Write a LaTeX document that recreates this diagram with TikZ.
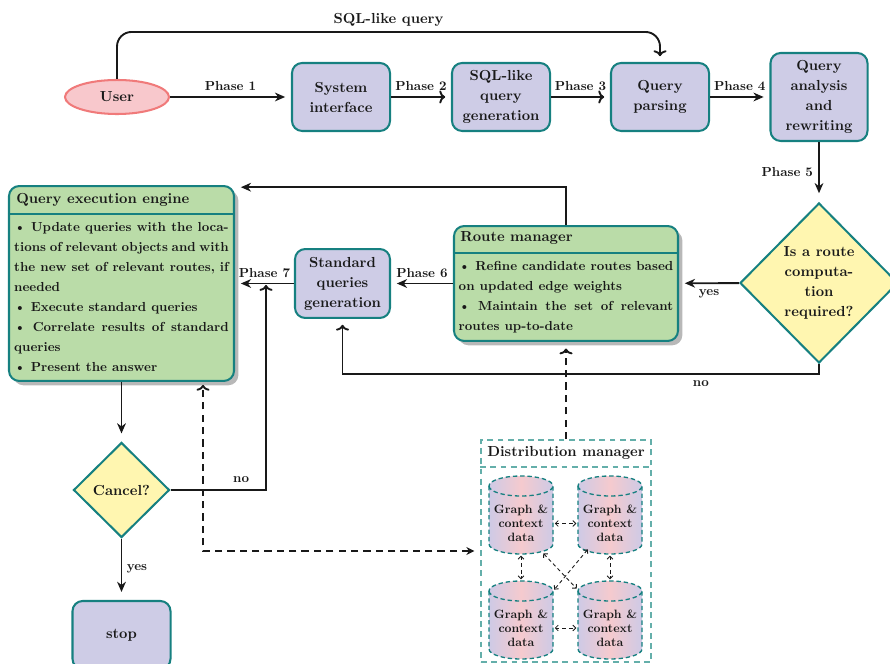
\documentclass[tikz,border=0pt]{standalone}
\usetikzlibrary{shapes.geometric,arrows.meta,shadows,calc}
\definecolor{lav}{RGB}{206,204,230}
\definecolor{tealb}{RGB}{22,128,128}
\definecolor{grn}{RGB}{186,220,168}
\definecolor{yel}{RGB}{255,246,176}
\definecolor{upink}{RGB}{248,200,204}
\definecolor{ured}{RGB}{240,122,122}
\definecolor{cpink}{RGB}{245,202,206}
\definecolor{clav}{RGB}{206,202,230}
\definecolor{dmteal}{RGB}{100,175,170}
\definecolor{ink}{RGB}{25,25,25}
\font\bodyfnt="[lmroman10-bold.otf]" at 9pt
\font\cylfnt="[lmroman10-bold.otf]" at 8.3pt
\newcommand\nf{\fontsize{10}{13.75}\selectfont\bfseries}
\newcommand\smf{\bodyfnt\baselineskip=13.75pt\relax}
\newcommand\labf{\bodyfnt}
\newcommand\cylf{\cylfnt\baselineskip=9.6pt\relax}
\newcommand\cyl[2]{%
  \shadedraw[left color=clav, right color=clav, middle color=cpink, draw=tealb, line width=0.9pt, dash pattern=on 3pt off 2pt]
    (#1-32,#2+29) -- (#1-32,#2-29) arc[start angle=180,end angle=360,x radius=32,y radius=10]
    -- (#1+32,#2+29) arc[start angle=0,end angle=180,x radius=32,y radius=10] -- cycle;
  \draw[tealb, line width=0.9pt, dash pattern=on 3pt off 2pt]
    (#1-32,#2+29) arc[start angle=180,end angle=360,x radius=32,y radius=10];
}
\begin{document}
\begin{tikzpicture}[x=0.6875pt,y=0.6875pt,
 proc/.style={rectangle, draw=tealb, line width=1.4pt, fill=lav, rounded corners=7pt, align=center, font=\nf, text=ink, inner sep=2pt, minimum width=67.4pt, minimum height=46.75pt},
 dec/.style={diamond, aspect=1, draw=tealb, line width=1.4pt, fill=yel, align=center, font=\nf, text=ink, inner sep=0pt},
 panel/.style={rectangle, draw=tealb, line width=1.4pt, fill=grn, rounded corners=7pt, drop shadow={shadow xshift=3pt,shadow yshift=-3pt,fill=black!28,opacity=1}},
 ptitle/.style={anchor=west, font=\nf, text=ink, inner sep=0pt},
 pbody/.style={font=\smf, text=ink, align=justify, text width=147.5pt, inner sep=0pt},
 lab/.style={font=\labf, text=ink, inner sep=2pt},
 conn/.style={draw=ink, line width=1.3pt},
 arr/.style={conn, -{Stealth[length=7pt,width=6pt,inset=2.2pt]}, shorten >=4pt},
 arro/.style={conn, -{To[length=4pt,width=9pt]}, shorten >=4pt},
 dconn/.style={conn, dash pattern=on 5pt off 3.5pt},
 cylbox/.style={rectangle, minimum width=44pt, minimum height=53.6pt, inner sep=0pt},
 cyltext/.style={font=\cylf, text=ink, align=center, inner sep=0pt},
 carr/.style={draw=ink, line width=0.6pt, dash pattern=on 2.5pt off 2pt, {Straight Barb[length=2pt,width=4pt]}-{Straight Barb[length=2pt,width=4pt]}, shorten >=1pt, shorten <=1pt},
 dmbox/.style={draw=dmteal, line width=1.1pt, dash pattern=on 4pt off 3pt}
]
\clip (0,0) rectangle (890,-664);

% top row
\node[ellipse, draw=ured, line width=1.4pt, fill=upink, minimum width=71.5pt, minimum height=23.4pt, font=\nf, text=ink] (user) at (117,-97) {User};
\node[proc] (sysint) at (341,-97) {System\\interface};
\node[proc] (sqlgen) at (501,-97) {SQL-like\\query\\generation};
\node[proc] (parse) at (660,-97) {Query\\parsing};
\node[proc, minimum width=66.7pt, minimum height=60.5pt] (qarw) at (819,-97) {Query\\analysis\\and\\rewriting};

% middle row
\node[dec, minimum width=108.6pt, minimum height=110pt] (route) at (819,-283) {Is a route\\computa-\\tion\\required?};
\node[panel, minimum width=154pt, minimum height=79pt] (rm) at (566,-283.5) {};
\coordinate (rmdiv) at (0,-253);
\draw[tealb, line width=1.4pt] (rm.west |- rmdiv) -- (rm.east |- rmdiv);
\node[ptitle] (rmt) at (460,-238) {Route manager};
\node[pbody] (rmb) at (566,-297) {\textbullet\ Refine candidate routes based\linebreak on updated edge weights\\\textbullet\ Maintain the set of relevant\linebreak routes up-to-date};

\node[proc, minimum width=65.3pt, minimum height=47.4pt] (std) at (342.5,-283.5) {Standard\\queries\\generation};

\node[panel, minimum width=154.7pt, minimum height=134pt] (qee) at (121.5,-283.5) {};
\coordinate (qeediv) at (0,-214);
\draw[tealb, line width=1.4pt] (qee.west |- qeediv) -- (qee.east |- qeediv);
\node[ptitle] (qeet) at (16,-200) {Query execution engine};
\node[pbody] (qeeb) at (121.5,-297.5) {\textbullet\ Update queries with the loca-\linebreak tions of relevant objects and with\linebreak the new set of relevant routes, if\linebreak needed\\\textbullet\ Execute standard queries\\\textbullet\ Correlate results of standard\linebreak queries\\\textbullet\ Present the answer};

% bottom left
\node[dec, minimum width=66pt, minimum height=65.3pt] (cancel) at (121.5,-490) {Cancel?};
\node[proc] (stop) at (121.5,-635) {stop};

% distribution manager
\node[dmbox, minimum width=116.9pt, minimum height=152.6pt] (dm) at (566,-551) {};
\coordinate (dmdiv) at (0,-467);
\draw[dmbox] (dm.west |- dmdiv) -- (dm.east |- dmdiv);
\node[font=\nf, text=ink, inner sep=0pt] (dmt) at (566,-453) {Distribution manager};

\cyl{521}{-515}
\cyl{610}{-515}
\cyl{521}{-620}
\cyl{610}{-620}
\node[cylbox] (c1) at (521,-515) {};
\node[cylbox] (c2) at (610,-515) {};
\node[cylbox] (c3) at (521,-620) {};
\node[cylbox] (c4) at (610,-620) {};
\node[cyltext] (c1t) at (521,-523.5) {Graph \&\\context\\data};
\node[cyltext] (c2t) at (610,-523.5) {Graph \&\\context\\data};
\node[cyltext] (c3t) at (521,-628) {Graph \&\\context\\data};
\node[cyltext] (c4t) at (610,-628) {Graph \&\\context\\data};

\draw[carr] (c1t -| c1.east) -- (c2t -| c2.west);
\draw[carr] (c3t -| c3.east) -- (c4t -| c4.west);
\draw[carr] (c1.south) -- (c3.north);
\draw[carr] (c2.south) -- (c4.north);
\draw[carr] ($(c1.south east)+(-11,2)$) -- ($(c4.north west)+(0,-9)$);
\draw[carr] ($(c2.south west)+(11,6)$) -- ($(c3.north east)+(0,-10)$);

% connectors
\draw[arro, rounded corners=10pt] (user.north) -- ++(0,47) -| node[font=\nf, text=ink, inner sep=2pt, above=1.5pt, pos=0.25]{SQL-like query} (parse.north);
\draw[arr] (user) -- node[lab, above=1.5pt]{Phase 1} (sysint);
\draw[arro] (sysint) -- node[lab, above=1.5pt]{Phase 2} (sqlgen);
\draw[arro] (sqlgen) -- node[lab, above=1.5pt]{Phase 3} (parse);
\draw[arr] (parse) -- node[lab, above=1.5pt]{Phase 4} (qarw);
\draw[arr, shorten >=6pt] (qarw) -- node[lab, left=1.5pt]{Phase 5} (route);
\draw[arr] (route) -- node[lab, below=1.5pt]{yes} (rm);
\draw[arr] (rm) -- node[lab, above=1.5pt]{Phase 6} (std);
\draw[arr] (std) -- node[lab, above=1.5pt]{Phase 7} (qee);
\draw[arr] (rm.north) |- ([yshift=-1.5pt]qee.north east);
\draw[arro] (route.south) -- ++(0,-10) -| node[lab, below=2pt, pos=0.124]{no} (std.south);
\draw[arr, shorten >=5.5pt] (qee) -- (cancel);
\draw[arr, shorten >=5.5pt] (cancel) -- node[lab, right=1pt]{yes} (stop);
\coordinate (p7) at (266,-285);
\draw[arro, shorten >=0pt] (cancel.east) -| node[lab, above=2.5pt, pos=0.37]{no} (p7);
\coordinate (dx) at (203,0);
\draw[dconn, {Stealth[length=5.5pt,width=5.5pt]}-{To[length=4pt,width=9pt]}, shorten <=4pt, shorten >=2pt] (dm.west) -| (dx |- qee.south);
\draw[dconn, -{To[length=4pt,width=9pt]}, shorten >=4.5pt] (dm.north) -- (rm.south);
\end{tikzpicture}
\end{document}
